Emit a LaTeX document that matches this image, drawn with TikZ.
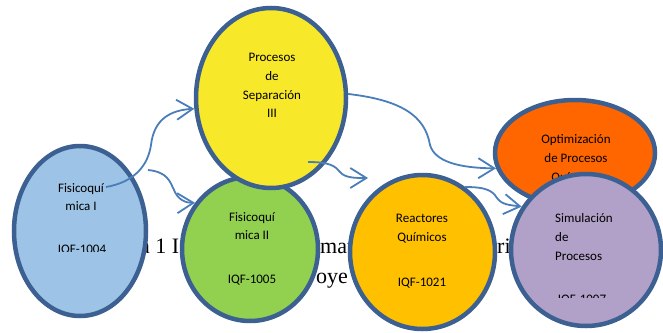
\documentclass[tikz,border=0pt]{standalone}
\usepackage{fontspec}
\setmainfont{Carlito}
\newfontfamily\bgserif{Liberation Serif}
\usetikzlibrary{shapes.geometric,arrows.meta}
\definecolor{rim}{RGB}{60,96,145}
\definecolor{flowblue}{RGB}{74,126,187}
\definecolor{fqone}{RGB}{157,195,230}
\definecolor{fqtwo}{RGB}{146,208,80}
\definecolor{sepyel}{RGB}{248,232,42}
\definecolor{rqgold}{RGB}{255,192,0}
\definecolor{optorg}{RGB}{255,102,0}
\definecolor{simlil}{RGB}{177,160,199}
\tikzset{
  bubble/.style={ellipse,draw=rim,line width=4.5pt,inner sep=0pt},
  lbl/.style={font=\fontsize{13}{18.7}\selectfont,align=center,inner sep=0pt},
  bgtext/.style={font=\bgserif\fontsize{22}{26}\selectfont,anchor=base west,inner sep=0pt},
  flow/.style={draw=flowblue,line width=1.8pt,-{Straight Barb[length=16pt,width=20pt]}}
}
\begin{document}
\begin{tikzpicture}[x=1pt,y=-1pt]
\useasboundingbox (0,0) rectangle (663,332);
% texto de fondo
\node[bgtext] (bg1) at (140,253) {a 1 I};
\node[bgtext] (bg2) at (320,253) {mat};
\node[bgtext] (bg3) at (497,253) {ri};
\node[bgtext] (bg4) at (316,283) {oye};
% materias
\node[bubble,fill=fqone,minimum width=132pt,minimum height=170pt] (fq1) at (80,231) {};
\node[lbl] (fq1t) at (81,197) {Fisicoquí\\mica I};
\begin{scope}
\clip (0,0) rectangle (663,251.5);
\node[lbl,anchor=base] (fq1c) at (82,253.5) {IQF-1004};
\end{scope}
\node[bubble,fill=fqtwo,minimum width=136pt,minimum height=144pt] (fq2) at (250,249) {};
\node[lbl] (fq2t) at (252,226) {Fisicoquí\\mica II};
\node[lbl] (fq2c) at (252,280) {IQF-1005};
\node[bubble,fill=sepyel,minimum width=150pt,minimum height=180pt] (sep) at (271,98) {};
\node[lbl] (sept) at (272,85.5) {Procesos\\de\\Separación\\III};
\node[bubble,fill=rqgold,minimum width=145pt,minimum height=154pt] (rq) at (422.5,252) {};
\node[lbl] (rqt) at (422,228.5) {Reactores\\Químicos};
\node[lbl] (rqc) at (422,283) {IQF-1021};
\node[bubble,fill=optorg,minimum width=160pt,minimum height=106pt] (opt) at (575,153) {};
\node[lbl] (optt) at (576,159) {Optimización\\de Procesos\\Químicos};
\node[bubble,fill=simlil,minimum width=150pt,minimum height=152pt] (sim) at (586,250) {};
\node[lbl,align=left,anchor=west] (simt) at (555,237) {Simulación\\de\\Procesos};
\begin{scope}
\clip (0,294.5) rectangle (663,297);
\node[lbl,anchor=base] (simc) at (582,303.5) {IQF-1007};
\end{scope}
% flechas
\coordinate (a1) at (106,187);
\coordinate (a2) at (148,170);
\coordinate (a4) at (308,162);
\coordinate (h4) at (368,178);
\coordinate (a5) at (465,187);
\draw[flow] (a1) .. controls (135,182) and (148,165) .. (151,145) .. controls (154,118) and (172,110) .. (sep.188);
\draw[flow] (a2) .. controls (168,172) and (170,182) .. (174,190) .. controls (178,200) and (186,203) .. (fq2.140);
\draw[flow] (sep.3) .. controls (400,100) and (425,115) .. (430,145) .. controls (435,162) and (460,168) .. (opt.191);
\draw[flow] (a4) .. controls (330,162) and (335,166) .. (340,172) .. controls (345,178) and (355,178) .. (h4);
\draw[flow] (a5) .. controls (485,187) and (492,190) .. (497,198) .. controls (502,205) and (510,205) .. (sim.146);
\end{tikzpicture}
\end{document}
